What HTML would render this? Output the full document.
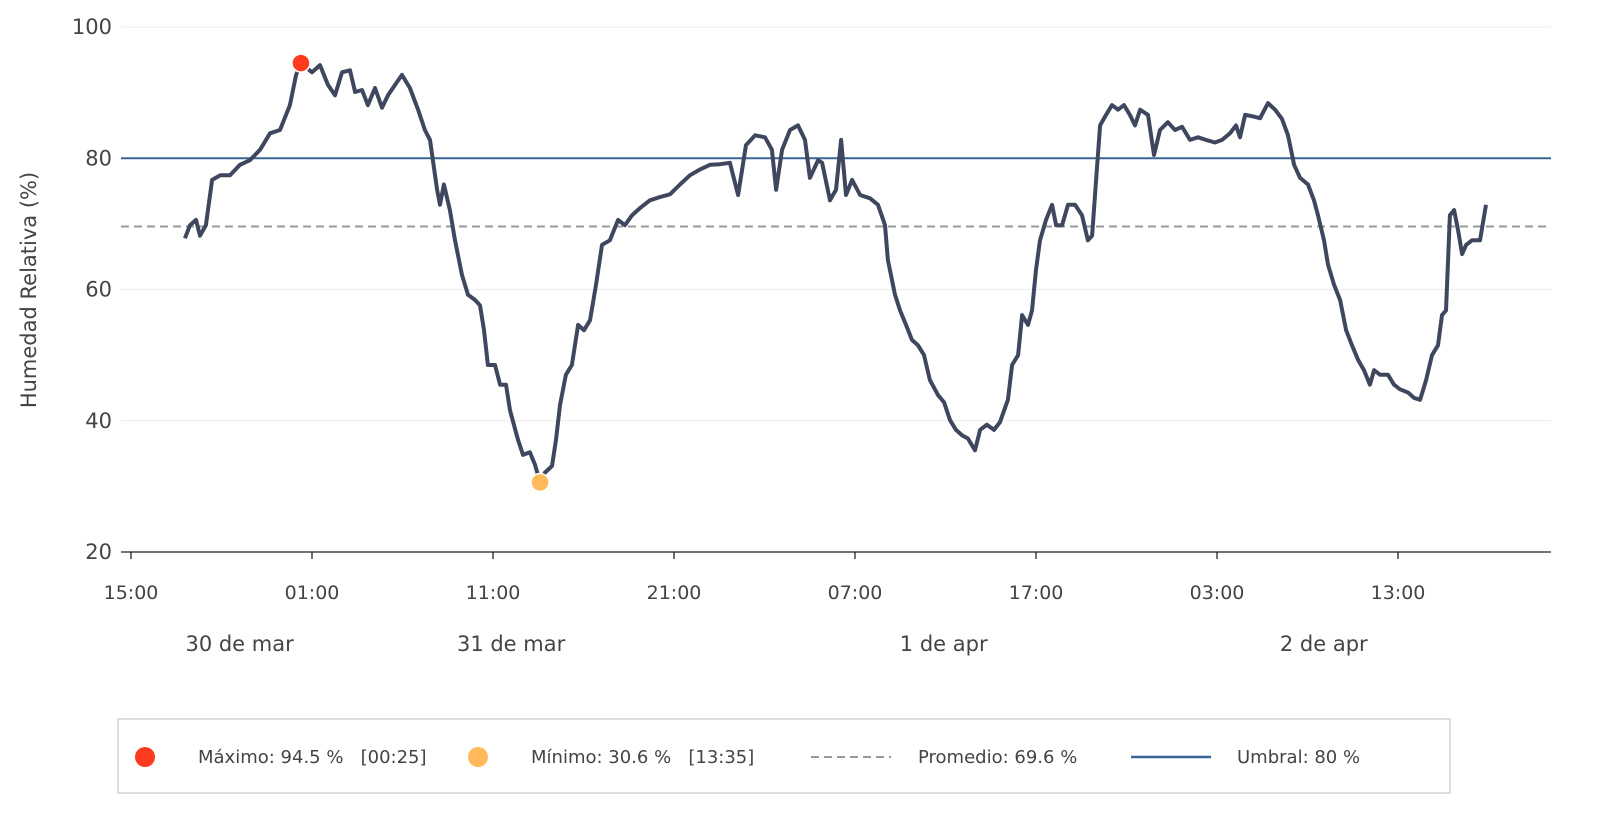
<!DOCTYPE html>
<html><head><meta charset="utf-8"><style>
body{margin:0;background:#fff;font-family:"Liberation Sans","DejaVu Sans",sans-serif}
</style></head><body>
<svg id="chart" width="1601" height="828" xmlns="http://www.w3.org/2000/svg" font-family="DejaVu Sans, Liberation Sans, sans-serif"></svg>
<script>
const hours=[2.98,3.26,3.59,3.81,4.14,4.48,4.92,5.47,6.02,6.57,7.13,7.68,8.23,8.78,9.12,9.39,10.0,10.44,10.88,11.27,11.66,12.1,12.38,12.76,13.09,13.48,13.87,14.2,14.59,14.97,15.41,15.86,16.24,16.52,16.91,17.07,17.29,17.62,17.9,18.29,18.62,19.01,19.28,19.5,19.72,20.11,20.39,20.72,20.94,21.38,21.66,22.04,22.32,22.6,22.87,23.26,23.48,23.7,24.03,24.36,24.7,25.03,25.36,25.69,26.02,26.46,26.91,27.29,27.68,28.12,28.67,29.23,29.78,30.33,30.88,31.44,31.99,32.54,33.09,33.54,33.98,34.48,35.03,35.41,35.64,35.97,36.41,36.85,37.24,37.51,37.96,38.18,38.62,38.95,39.23,39.5,39.84,40.28,40.83,41.27,41.66,41.82,42.21,42.49,42.82,43.15,43.48,43.81,44.14,44.59,44.92,45.25,45.58,45.91,46.24,46.63,46.91,47.29,47.68,48.01,48.45,48.68,49.01,49.23,49.56,49.78,50.0,50.22,50.55,50.89,51.11,51.44,51.77,52.16,52.54,52.87,53.1,53.32,53.54,53.87,54.2,54.53,54.86,55.19,55.47,55.75,56.19,56.52,56.85,57.29,57.68,58.07,58.51,58.95,59.39,59.89,60.28,60.72,61.05,61.27,61.55,61.94,62.38,62.82,63.21,63.59,63.92,64.26,64.59,65.03,65.36,65.58,65.91,66.13,66.47,66.8,67.13,67.46,67.79,68.12,68.45,68.68,69.01,69.45,69.78,70.11,70.55,70.88,71.22,71.55,71.88,72.21,72.43,72.65,72.87,73.1,73.32,73.54,73.76,74.09,74.53,74.86];
const humidity=[67.8,69.8,70.6,68.2,69.8,76.7,77.4,77.4,79.0,79.7,81.3,83.8,84.3,88.1,92.7,94.5,93.1,94.2,91.2,89.6,93.1,93.4,90.1,90.4,88.1,90.7,87.7,89.6,91.2,92.7,90.7,87.4,84.3,82.8,75.2,72.9,76.0,72.1,67.5,62.2,59.2,58.4,57.6,53.8,48.5,48.5,45.5,45.5,41.6,37.1,34.8,35.2,33.3,30.6,32.1,33.1,37.1,42.4,47.0,48.5,54.6,53.8,55.3,60.7,66.8,67.5,70.6,69.8,71.3,72.4,73.6,74.1,74.5,76.0,77.4,78.3,79.0,79.1,79.3,74.4,82.0,83.5,83.2,81.3,75.2,81.3,84.3,85.0,82.8,77.0,79.7,79.3,73.6,75.2,82.8,74.4,76.7,74.4,73.9,72.9,69.8,64.5,59.2,56.8,54.6,52.3,51.5,50.0,46.2,43.9,42.8,40.1,38.6,37.8,37.3,35.5,38.6,39.4,38.6,39.8,43.2,48.5,50.0,56.1,54.6,56.8,63.0,67.5,70.6,72.9,69.8,69.8,72.9,72.9,71.3,67.5,68.2,76.7,85.0,86.6,88.1,87.4,88.1,86.6,85.0,87.4,86.6,80.5,84.3,85.5,84.3,84.8,82.8,83.2,82.8,82.4,82.8,83.8,85.0,83.2,86.6,86.4,86.1,88.4,87.4,86.0,83.5,79.0,77.0,76.0,73.6,71.3,67.5,63.8,60.7,58.4,53.8,51.5,49.3,47.7,45.5,47.7,47.0,47.0,45.5,44.8,44.3,43.5,43.2,46.2,50.0,51.5,56.1,56.8,71.3,72.1,69.0,65.4,66.8,67.5,67.5,72.9];
const yTicks=[20,40,60,80,100];
const xTickHours=[0,10,20,30,40,50,60,70];
const xTickLabels=["15:00","01:00","11:00","21:00","07:00","17:00","03:00","13:00"];
const dateHours=[6.0,21.0,44.9,65.9];
const dateLabels=["30 de mar","31 de mar","1 de apr","2 de apr"];
const maxValue=94.5, maxHour=9.39, minValue=30.6, minHour=22.6;
const meanValue=69.6, threshold=80;

const svg=document.getElementById('chart');
const NS='http://www.w3.org/2000/svg';
const X0=131,PXH=18.1,Y0=552,PXU=6.5625,XR=1551;
const sx=h=>X0+h*PXH, sy=v=>Y0-(v-20)*PXU;
function mk(tag,attrs,parent){const e=document.createElementNS(NS,tag);for(const k in attrs)e.setAttribute(k,attrs[k]);(parent||svg).appendChild(e);return e;}

yTicks.forEach(v=>{
  if(v>20){const g=mk('line',{x1:121,x2:XR,y1:sy(v),y2:sy(v),stroke:'#ececec','stroke-width':1});
  
  }
  const t=mk('text',{x:112,y:sy(v)+7,'text-anchor':'end','font-size':21,fill:'#444'});
  t.textContent=v;
  
  
});
const yt=mk('text',{x:36,y:290,'text-anchor':'middle','font-size':21,fill:'#444',transform:'rotate(-90 36 290)'});
yt.textContent='Humedad Relativa (%)';



const ax=mk('line',{x1:121,x2:XR,y1:Y0,y2:Y0,stroke:'#222','stroke-width':1.3});


xTickHours.forEach((h,i)=>{
  const tk=mk('line',{x1:sx(h),x2:sx(h),y1:Y0,y2:Y0+7,stroke:'#222','stroke-width':1.3});
  
  
  const t=mk('text',{x:sx(h),y:599,'text-anchor':'middle','font-size':19,fill:'#444'});
  t.textContent=xTickLabels[i];
  
  
});
dateHours.forEach((h,i)=>{
  const t=mk('text',{x:sx(h),y:651,'text-anchor':'middle','font-size':21,fill:'#444'});
  t.textContent=dateLabels[i];
  
  
});

const th=mk('line',{x1:121,x2:XR,y1:sy(threshold),y2:sy(threshold),stroke:'#3a6594','stroke-width':2});


const mn=mk('line',{x1:121,x2:XR,y1:sy(meanValue),y2:sy(meanValue),stroke:'#999','stroke-width':2,'stroke-dasharray':'8 5'});



const d=hours.map((h,i)=>(i?'L':'M')+sx(h).toFixed(1)+' '+sy(humidity[i]).toFixed(1)).join(' ');
const ln=mk('path',{d:d,fill:'none',stroke:'#3f475e','stroke-width':4,'stroke-linejoin':'round'});



const mx=mk('circle',{cx:sx(maxHour),cy:sy(maxValue),r:9,fill:'#ff3b1f',stroke:'#fff','stroke-width':1.5});


const mi=mk('circle',{cx:sx(minHour),cy:sy(minValue),r:9,fill:'#ffb95a',stroke:'#fff','stroke-width':1.5});



const lg=mk('g',{});


mk('rect',{x:118,y:719,width:1332,height:74,fill:'#fff',stroke:'#ccc','stroke-width':1.3},lg);
const c1=mk('circle',{cx:145,cy:757,r:10,fill:'#ff3b1f'},lg);


const c2=mk('circle',{cx:478,cy:757,r:10,fill:'#ffb95a'},lg);


const l1=mk('line',{x1:811,x2:891,y1:757,y2:757,stroke:'#999','stroke-width':2,'stroke-dasharray':'8 5'},lg);


const l2=mk('line',{x1:1131,x2:1211,y1:757,y2:757,stroke:'#3a6594','stroke-width':2.5},lg);


[[198,'Máximo: '+maxValue+' %   [00:25]','legend-max'],[531,'Mínimo: '+minValue+' %   [13:35]','legend-min'],[918,'Promedio: '+meanValue+' %','legend-mean'],[1237,'Umbral: '+threshold+' %','legend-threshold']].forEach(a=>{
  const t=mk('text',{x:a[0],y:763,'font-size':18,fill:'#444'},lg);
  t.setAttribute('style','white-space:pre');
  t.textContent=a[1];
  
  
});
</script>
</body></html>
